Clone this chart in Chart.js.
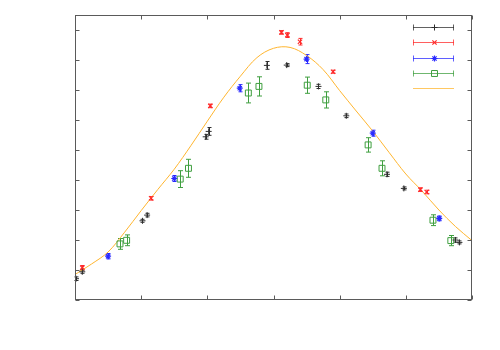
<!DOCTYPE html>
<html>
<head>
<meta charset="utf-8">
<script src="https://cdn.jsdelivr.net/npm/chart.js@4/dist/chart.umd.min.js"></script>
<style>
html,body{margin:0;padding:0;background:#fff;}
#wrap{width:500px;height:350px;position:relative;}
</style>
</head>
<body>
<div id="wrap"><canvas id="c" width="500" height="350"></canvas></div>
<script>
// ---- data ----
const blackX = [0.015, 0.11, 1.02, 1.09, 1.975, 2.02, 2.90, 3.20, 3.68, 4.10, 4.715, 4.97, 5.75, 5.81];
const blackY = [0.71, 0.94, 2.64, 2.83, 5.44, 5.62, 7.82, 7.83, 7.12, 6.14, 4.19, 3.72, 2.00, 1.92];
const blackE = [0.06, 0.05, 0.05, 0.06, 0.08, 0.13, 0.13, 0.05, 0.07, 0.06, 0.07, 0.05, 0.07, 0.05];

const redX = [0.11, 1.15, 2.045, 3.12, 3.21, 3.40, 3.90, 5.22, 5.315];
const redY = [1.08, 3.39, 6.47, 8.92, 8.83, 8.61, 7.61, 3.68, 3.60];
const redE = [0.07, 0.06, 0.06, 0.06, 0.08, 0.11, 0.05, 0.06, 0.06];

const blueX = [0.50, 1.50, 2.49, 3.50, 4.50, 5.505];
const blueY = [1.46, 4.05, 7.06, 8.03, 5.56, 2.72];
const blueE = [0.09, 0.10, 0.12, 0.15, 0.10, 0.08];

const greenX = [0.68, 0.78, 1.59, 1.715, 2.62, 2.78, 3.51, 3.79, 4.43, 4.64, 5.41, 5.68];
const greenY = [1.87, 1.99, 4.03, 4.39, 6.90, 7.12, 7.16, 6.67, 5.17, 4.39, 2.66, 1.98];
const greenE = [0.18, 0.18, 0.28, 0.30, 0.33, 0.32, 0.27, 0.27, 0.24, 0.25, 0.18, 0.17];

const fitX = [0, 0.25, 0.5, 0.75, 1.0, 1.25, 1.5, 1.75, 2.0, 2.25, 2.5, 2.75, 3.0, 3.25, 3.5, 3.75, 4.0, 4.25, 4.5, 4.75, 5.0, 5.25, 5.5, 5.75, 6.0];
const fitY = [0.85, 1.20, 1.60, 2.26, 2.98, 3.68, 4.36, 5.14, 5.96, 6.76, 7.46, 8.08, 8.39, 8.42, 8.15, 7.68, 6.98, 6.30, 5.63, 4.91, 4.20, 3.62, 3.00, 2.45, 1.98];

const xTicks = [0, 1, 2, 3, 4, 5, 6];
const yTicks = [0, 1, 2, 3, 4, 5, 6, 7, 8, 9];

function pts(xs, ys) { return xs.map((x, i) => ({x: x, y: ys[i]})); }

const C_BLACK = '#2e2e2e', C_RED = '#ff2a2a', C_BLUE = '#2a2aff', C_GREEN = '#3f9f3f', C_ORANGE = '#ffb52e';

const errorBars = {
  id: 'errorBars',
  beforeDatasetsDraw(chart) {
    const ctx = chart.ctx, ys = chart.scales.y, xs = chart.scales.x;
    chart.data.datasets.forEach((ds) => {
      if (!ds.errs) return;
      ctx.save();
      ctx.strokeStyle = ds.borderColor;
      ctx.lineWidth = 1;
      ds.data.forEach((p, i) => {
        const px = Math.round(xs.getPixelForValue(p.x)) + 0.5;
        const y1 = ys.getPixelForValue(p.y - ds.errs[i]);
        const y2 = ys.getPixelForValue(p.y + ds.errs[i]);
        const cw = ds.capW;
        ctx.beginPath();
        ctx.moveTo(px, y1); ctx.lineTo(px, y2);
        ctx.moveTo(px - cw, y1); ctx.lineTo(px + cw, y1);
        ctx.moveTo(px - cw, y2); ctx.lineTo(px + cw, y2);
        ctx.stroke();
      });
      ctx.restore();
    });
  }
};

const frame = {
  id: 'frame',
  afterDraw(chart) {
    const ctx = chart.ctx, a = chart.chartArea, xs = chart.scales.x, ys = chart.scales.y;
    ctx.save();
    ctx.strokeStyle = '#5a5a5a';
    ctx.lineWidth = 1;
    const L = Math.round(a.left) + 0.5, R = Math.round(a.right) - 0.5, T = Math.round(a.top) + 0.5, B = Math.round(a.bottom) - 0.5;
    ctx.strokeRect(L, T, R - L, B - T);
    ctx.beginPath();
    const tl = 4;
    xTicks.forEach(v => {
      const px = Math.round(xs.getPixelForValue(v)) + 0.5;
      ctx.moveTo(px, B); ctx.lineTo(px, B - tl);
      ctx.moveTo(px, T); ctx.lineTo(px, T + tl);
    });
    yTicks.forEach(v => {
      const py = Math.round(ys.getPixelForValue(v)) + 0.5;
      ctx.moveTo(L, py); ctx.lineTo(L + tl, py);
      ctx.moveTo(R, py); ctx.lineTo(R - tl, py);
    });
    ctx.stroke();

    // key samples (no text)
    const x1 = a.left + 338, x2 = a.left + 379, xm = (x1 + x2) / 2;
    const rows = [27, 42, 57.5, 73, 88];
    chart.data.datasets.slice().sort((p, q) => p.keyIndex - q.keyIndex).forEach((ds) => {
      const y = Math.round(rows[ds.keyIndex]) + 0.5;
      ctx.strokeStyle = ds.borderColor;
      ctx.globalAlpha = 0.75;
      ctx.lineWidth = 1;
      ctx.beginPath();
      ctx.moveTo(x1, y); ctx.lineTo(x2, y);
      if (ds.errs) {
        ctx.moveTo(x1 + 0.5, y - 3); ctx.lineTo(x1 + 0.5, y + 3);
        ctx.moveTo(x2 - 0.5, y - 3); ctx.lineTo(x2 - 0.5, y + 3);
      }
      ctx.stroke();
      ctx.globalAlpha = 1;
      if (ds.errs) {
        ctx.fillStyle = ds.pointBackgroundColor || 'transparent';
        ctx.strokeStyle = ds.borderColor;
        ctx.lineWidth = ds.pointBorderWidth || 1;
        Chart.helpers.drawPoint(ctx, {pointStyle: ds.pointStyle, radius: ds.pointRadius, rotation: 0, borderWidth: ds.pointBorderWidth || 1}, Math.round(xm) + 0.5, y);
      }
    });
    ctx.restore();
  }
};

new Chart(document.getElementById('c'), {
  type: 'scatter',
  data: {
    datasets: [
      { data: pts(fitX, fitY), showLine: true, borderColor: C_ORANGE, borderWidth: 1, pointRadius: 0, tension: 0.35, keyIndex: 4, order: 5 },
      { data: pts(blackX, blackY), errs: blackE, capW: 2, borderColor: C_BLACK, pointStyle: 'cross', pointRadius: 3, pointBorderWidth: 1, pointBorderColor: C_BLACK, keyIndex: 0, order: 1 },
      { data: pts(redX, redY), errs: redE, capW: 2, borderColor: C_RED, pointStyle: 'crossRot', pointRadius: 3, pointBorderWidth: 1.2, pointBorderColor: C_RED, keyIndex: 1, order: 2 },
      { data: pts(blueX, blueY), errs: blueE, capW: 2, borderColor: C_BLUE, pointStyle: 'star', pointRadius: 3, pointBorderWidth: 1.2, pointBorderColor: C_BLUE, keyIndex: 2, order: 3 },
      { data: pts(greenX, greenY), errs: greenE, capW: 2.5, borderColor: C_GREEN, pointStyle: 'rect', pointRadius: 4.2, pointBorderWidth: 1, pointBorderColor: C_GREEN, pointBackgroundColor: 'rgba(0,0,0,0)', keyIndex: 3, order: 4 }
    ]
  },
  options: {
    responsive: false,
    animation: false,
    layout: { padding: { left: 75, right: 28, top: 15, bottom: 50 } },
    plugins: { legend: { display: false }, tooltip: { enabled: false } },
    scales: {
      x: { type: 'linear', min: 0, max: 6, ticks: { display: false, stepSize: 1, padding: 0 }, grid: { display: false, drawTicks: false, tickLength: 0 }, border: { display: false } },
      y: { type: 'linear', min: 0, max: 9.5, ticks: { display: false, stepSize: 1, padding: 0 }, grid: { display: false, drawTicks: false, tickLength: 0 }, border: { display: false } }
    }
  },
  plugins: [errorBars, frame]
});
</script>
</body>
</html>
